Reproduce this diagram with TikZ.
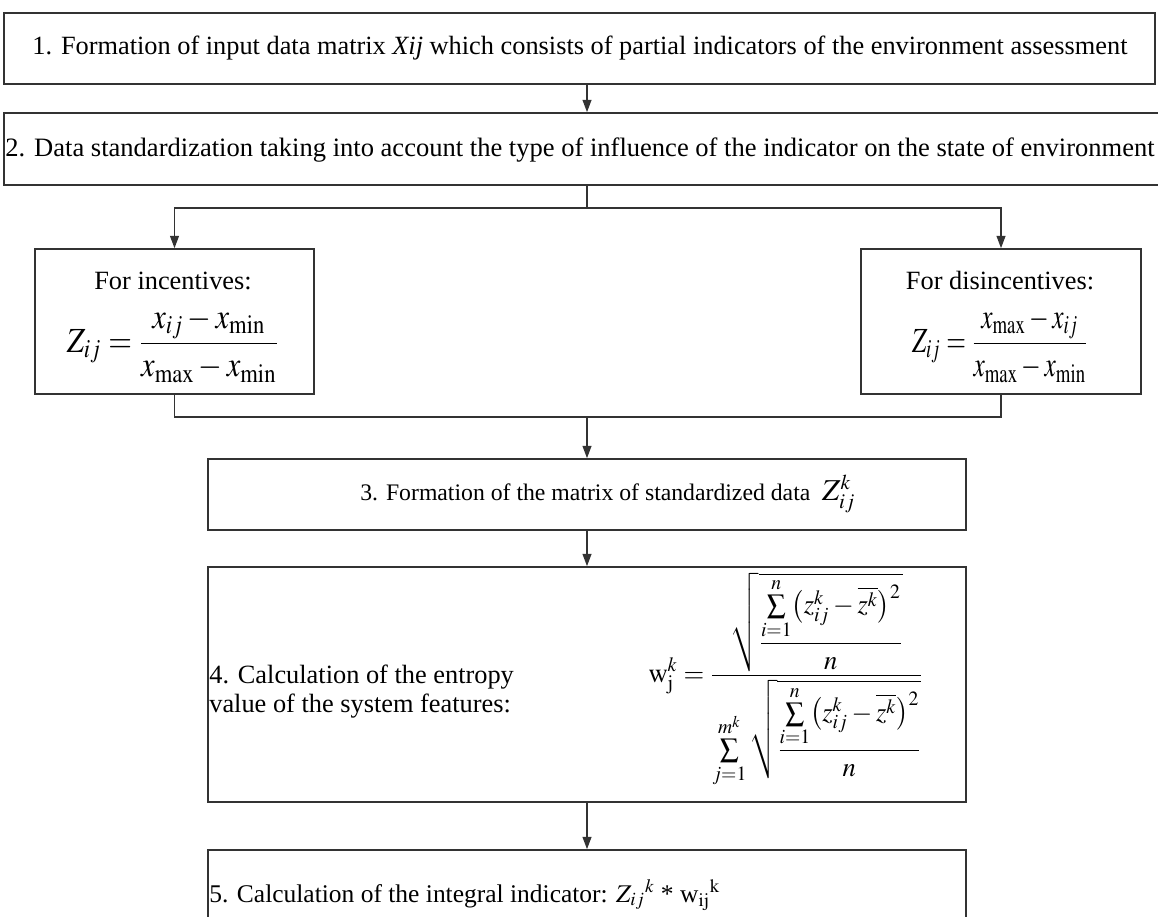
\documentclass[tikz,border=0pt]{standalone}
\usepackage{amsmath}
\usepackage{mathptmx}
\usepackage[no-math]{fontspec}
\setmainfont{Liberation Serif}
\usetikzlibrary{arrows.meta}
\begin{document}
\begin{tikzpicture}[x=0.2mm,y=-0.2mm,
  box/.style={draw=black!80, line width=0.9pt, inner sep=0pt, rectangle},
  conn/.style={draw=black!80, line width=0.9pt},
  arr/.style={conn, -{Triangle[length=7pt,width=5pt]}},
  lbl/.style={inner sep=0pt, font=\fontsize{15}{16.5}\selectfont}]
\useasboundingbox (0,0) rectangle (1158,916);
\clip (0,0) rectangle (1158,916);
% boxes
\node[box, minimum width=1151*0.2mm, minimum height=71*0.2mm] (b1) at (579.5,48.5) {};
\node[box, minimum width=1158*0.2mm, minimum height=72*0.2mm] (b2) at (583,149) {};
\node[box, minimum width=279*0.2mm, minimum height=145*0.2mm] (inc) at (174.5,321.5) {};
\node[box, minimum width=280*0.2mm, minimum height=145*0.2mm] (dis) at (1001,321.5) {};
\node[box, minimum width=758*0.2mm, minimum height=71*0.2mm] (b3) at (587,494.5) {};
\node[box, minimum width=758*0.2mm, minimum height=235*0.2mm] (b4) at (587,684.5) {};
\node[box, minimum width=758*0.2mm, minimum height=100*0.2mm] (b5) at (587,900) {};
% texts
\node[lbl] (t1) at (580,48) {\resizebox{219mm}{!}{1. Formation of input data matrix \textit{Xij} which consists of partial indicators of the environment assessment}};
\node[lbl] (t2) at (580,150) {\resizebox{229.8mm}{!}{2. Data standardization taking into account the type of influence of the indicator on the state of environment}};
\node[lbl] (tinc) at (173,281) {For incentives:};
\node[lbl] (finc) at (173,345) {\resizebox*{42.4mm}{15mm}{$\displaystyle Z_{ij}=\frac{x_{ij}-x_{\mathrm{min}}}{x_{\mathrm{max}}-x_{\mathrm{min}}}$}};
\node[lbl] (tdis) at (1000,281) {For disincentives:};
\node[lbl] (fdis) at (1000,345) {\resizebox*{35.2mm}{15mm}{$\displaystyle Z_{ij}=\frac{x_{\mathrm{max}}-x_{ij}}{x_{\mathrm{max}}-x_{\mathrm{min}}}$}};
\node[lbl, anchor=west, font=\fontsize{13.5}{15}\selectfont] (t3) at (360,494) {3. Formation of the matrix of standardized data\enspace {\LARGE $Z_{ij}^{k}$}};
\node[lbl, anchor=west, align=left] (t4) at (209,692) {4. Calculation of the entropy\\value of the system features:};
\node[lbl] (f4) at (786,680) {\resizebox*{55mm}{43mm}{$\displaystyle \mathrm{w}_{\mathrm{j}}^{k}=\frac{\sqrt{\dfrac{\sum\limits_{i=1}^{n}\bigl(z_{ij}^{k}-\overline{z^{k}}\bigr)^{2}}{n}}}{\sum\limits_{j=1}^{m^{k}}\sqrt{\dfrac{\sum\limits_{i=1}^{n}\bigl(z_{ij}^{k}-\overline{z^{k}}\bigr)^{2}}{n}}}$}};
\node[lbl, anchor=west, font=\fontsize{14.5}{16}\selectfont] (t5) at (209,895) {5. Calculation of the integral indicator: $Z_{ij}{}^{k}$ * w$_{\mathrm{ij}}{}^{\mathrm{k}}$};
% connectors
\coordinate (top) at (587,208);
\coordinate (bot) at (587,417);
\draw[arr] (b1.south -| top) -- (b2.north -| top);
\draw[conn] (b2.south -| top) -- (top);
\draw[arr] (top) -| (inc.north);
\draw[arr] (top) -| (dis.north);
\draw[conn] (inc.south) |- (bot) -| (dis.south);
\draw[arr] (bot) -- (b3.north);
\draw[arr] (b3.south) -- (b4.north);
\draw[arr] (b4.south) -- (b5.north);
\end{tikzpicture}
\end{document}
